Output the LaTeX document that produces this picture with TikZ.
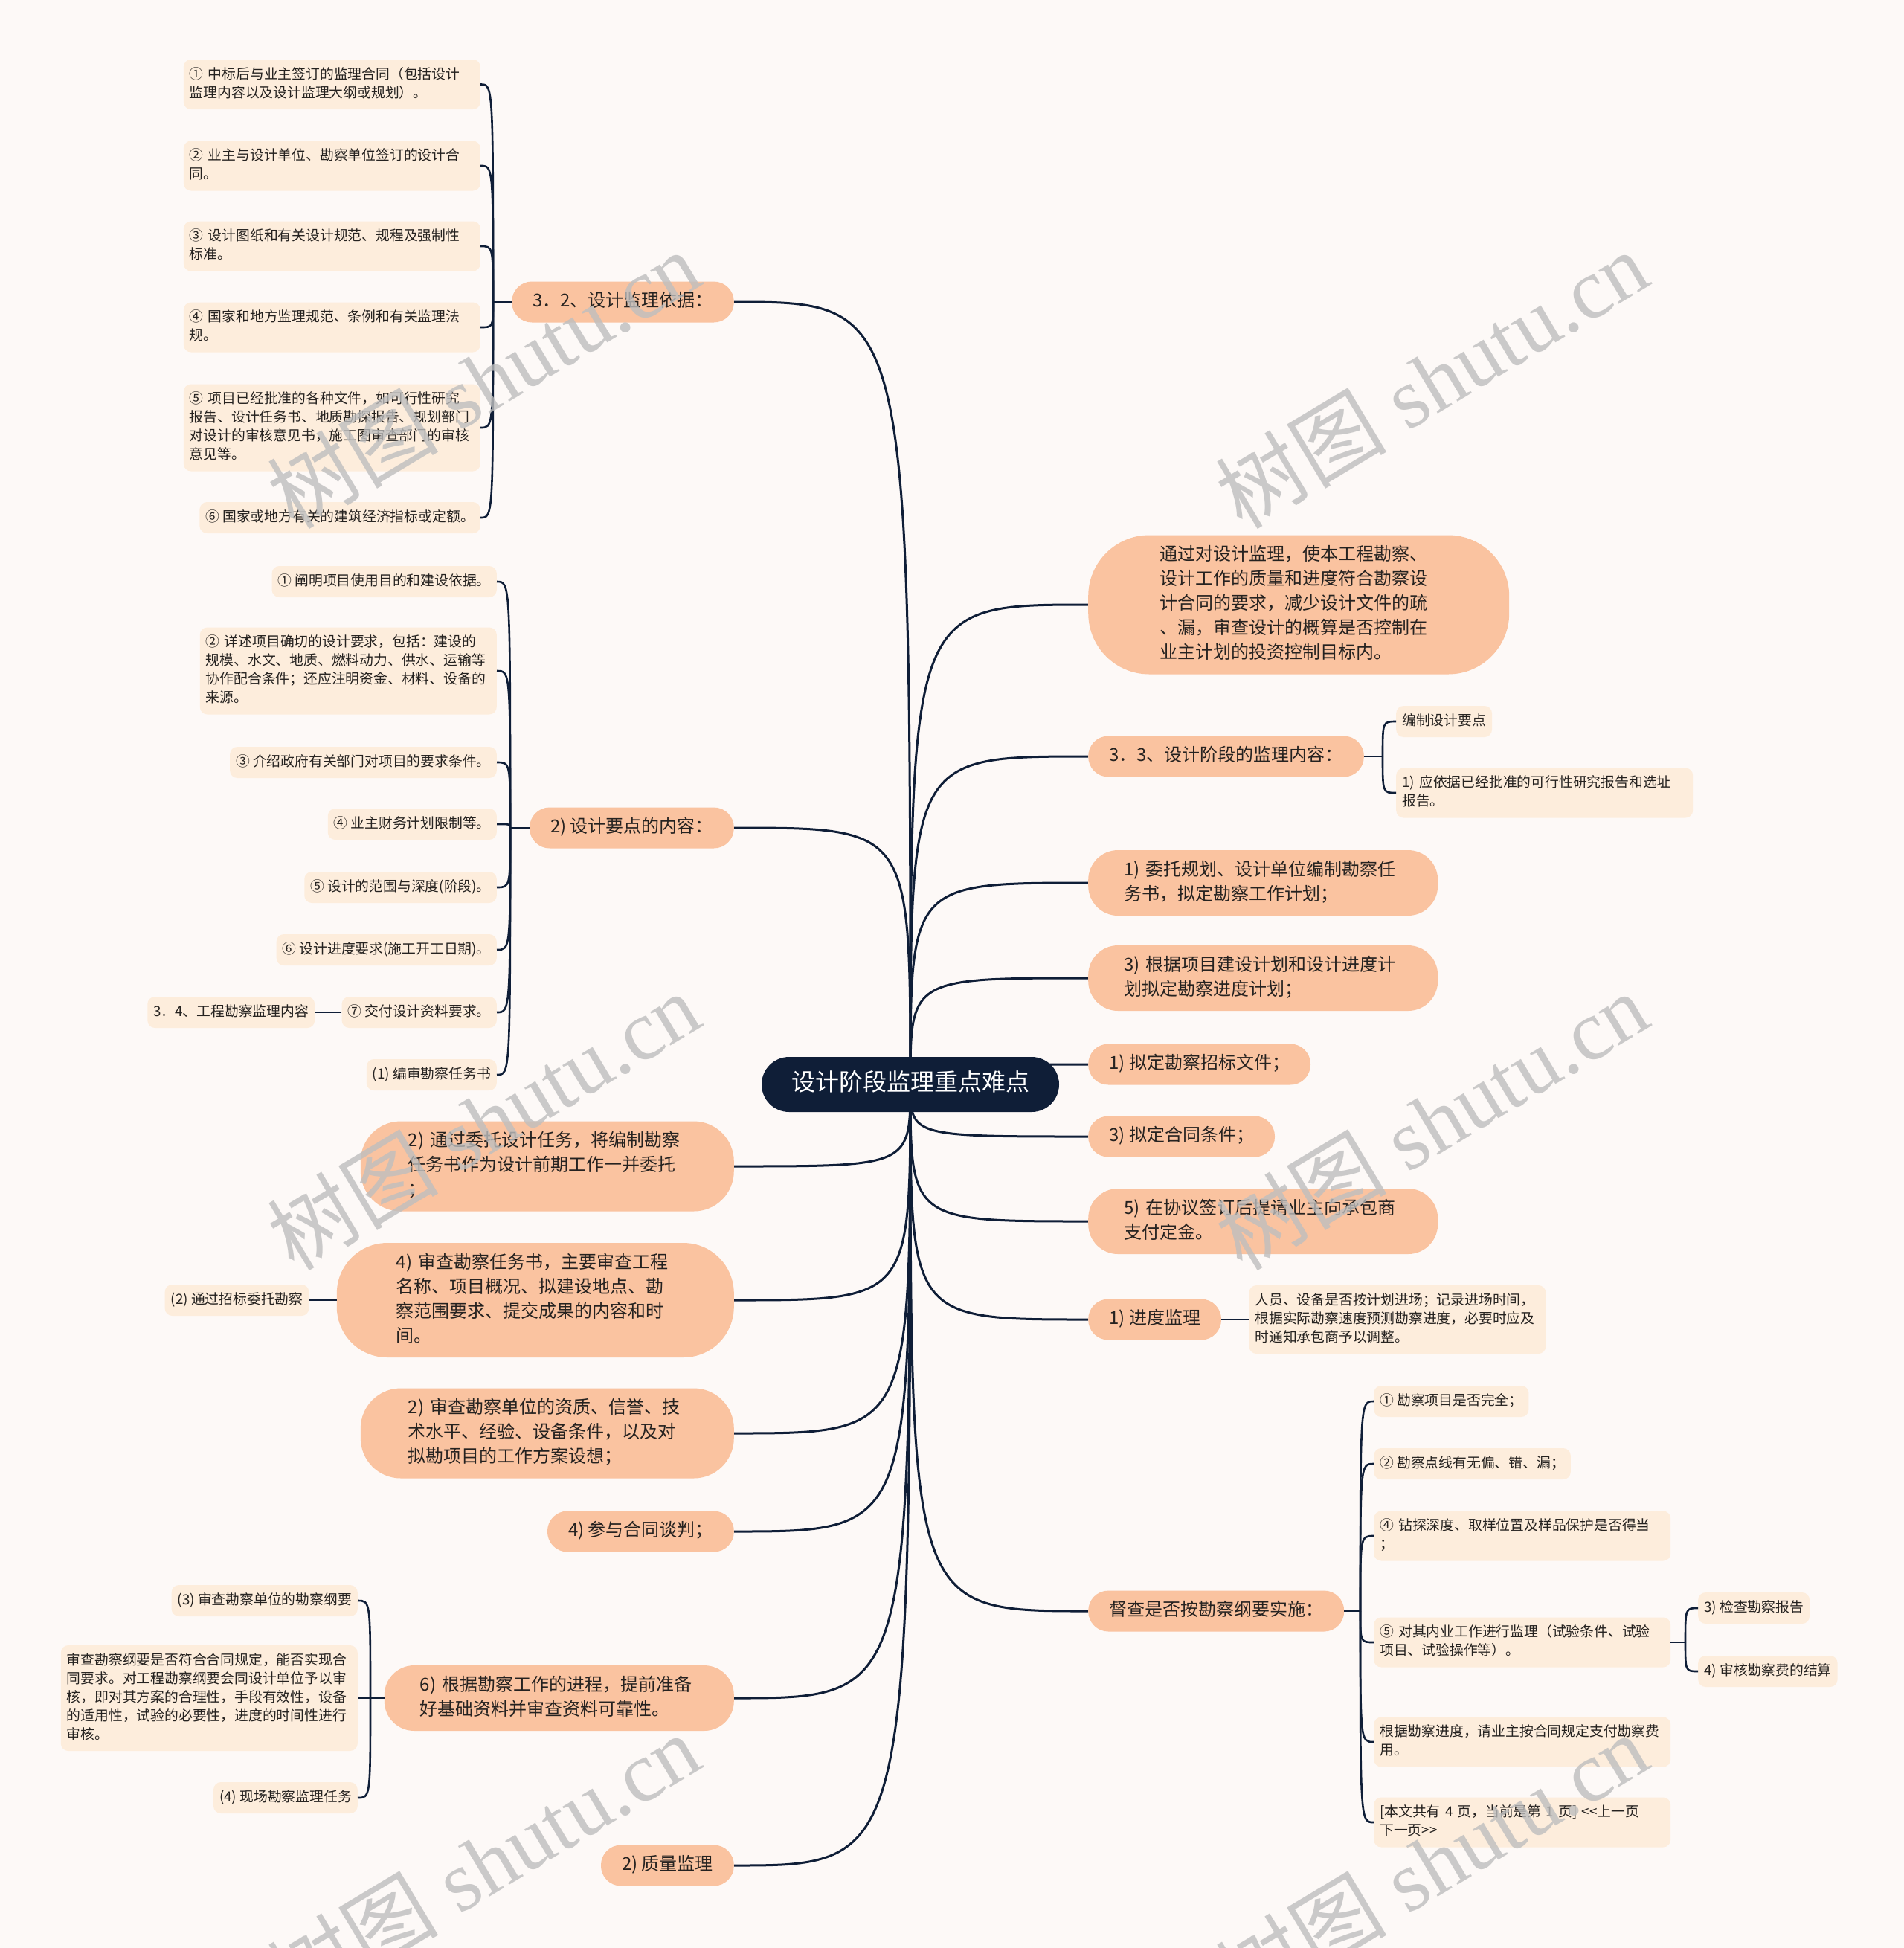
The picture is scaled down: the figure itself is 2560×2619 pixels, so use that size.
\documentclass[tikz,border=0pt]{standalone}
\usepackage{fontspec}
\setmainfont{Noto Sans CJK SC}
\newfontfamily\wmlatin{Liberation Serif}
\usetikzlibrary{positioning,backgrounds}
\definecolor{pagebg}{HTML}{FDF9F7}
\definecolor{navy}{HTML}{0F1E37}
\definecolor{peach}{HTML}{FAC3A0}
\definecolor{cream}{HTML}{FDEDDC}
\definecolor{ink}{HTML}{252220}
\definecolor{wmgray}{HTML}{BEBEBE}
\tikzset{
  topicnode/.style = {fill=navy, text=white, rounded corners=37pt, inner xsep=40pt, inner ysep=16pt,
    font=\fontsize{32}{42}\selectfont, execute at begin node=\strut},
  branchnode/.style = {fill=peach, text=ink, rounded corners=27pt, inner xsep=28pt, inner ysep=11pt, align=left,
    font=\fontsize{24}{33}\selectfont, execute at begin node=\strut, execute at end node=\strut},
  twoline/.style = {branchnode, text width=374pt, inner xsep=48pt, rounded corners=40pt},
  threeline/.style = {branchnode, text width=374pt, inner xsep=64pt, rounded corners=54pt},
  fourline/.style = {branchnode, text width=374pt, inner xsep=80pt, rounded corners=68pt},
  fiveline/.style = {branchnode, text width=374pt, inner xsep=96pt, rounded corners=82pt},
  leafnode/.style = {fill=cream, text=ink, rounded corners=10pt, inner xsep=8pt, inner ysep=8.5pt, align=left,
    font=\fontsize{18.8}{25}\selectfont, execute at begin node=\strut, execute at end node=\strut},
  wideleaf/.style = {leafnode, text width=383pt},
  trunkline/.style = {draw=navy, line width=3pt},
  twigline/.style = {draw=navy, line width=2.6pt},
  wmark/.style = {text=wmgray, text opacity=0.8, rotate=31, font=\fontsize{115}{115}\selectfont}
  }

\begin{document}
\begin{tikzpicture}[x=1pt,y=-1pt]
\useasboundingbox (0,0) rectangle (2560,2619);
\begin{pgfonlayer}{background}
\fill[pagebg] (0,0) rectangle (2560,2619);
\end{pgfonlayer}

% centre
\node[topicnode] (root) at (1224,1458) {设计阶段监理重点难点};

% left side
\node[branchnode,anchor=east] (b1) at (987,406) {3．2、设计监理依据：};
\node[wideleaf,anchor=east] (l1a) at (646,113.5) {① 中标后与业主签订的监理合同（包括设计\\监理内容以及设计监理大纲或规划）。};
\node[wideleaf,anchor=east] (l1b) at (646,223) {② 业主与设计单位、勘察单位签订的设计合\\同。};
\node[wideleaf,anchor=east] (l1c) at (646,331) {③ 设计图纸和有关设计规范、规程及强制性\\标准。};
\node[wideleaf,anchor=east] (l1d) at (646,440) {④ 国家和地方监理规范、条例和有关监理法\\规。};
\node[wideleaf,anchor=east] (l1e) at (646,575) {⑤ 项目已经批准的各种文件，如可行性研究\\报告、设计任务书、地质勘探报告、规划部门\\对设计的审核意见书，施工图审查部门的审核\\意见等。};
\node[leafnode,anchor=east] (l1f) at (646,696) {⑥ 国家或地方有关的建筑经济指标或定额。};

\node[branchnode,anchor=east] (b2) at (987,1113) {2) 设计要点的内容：};
\node[leafnode,anchor=east] (l2a) at (668,782) {① 阐明项目使用目的和建设依据。};
\node[wideleaf,anchor=east] (l2b) at (668,902) {② 详述项目确切的设计要求，包括：建设的\\规模、水文、地质、燃料动力、供水、运输等\\协作配合条件；还应注明资金、材料、设备的\\来源。};
\node[leafnode,anchor=east] (l2c) at (668,1025) {③ 介绍政府有关部门对项目的要求条件。};
\node[leafnode,anchor=east] (l2d) at (668,1108) {④ 业主财务计划限制等。};
\node[leafnode,anchor=east] (l2e) at (668,1193) {⑤ 设计的范围与深度(阶段)。};
\node[leafnode,anchor=east] (l2f) at (668,1277) {⑥ 设计进度要求(施工开工日期)。};
\node[leafnode,anchor=east] (l2g) at (668,1361) {⑦ 交付设计资料要求。};
\node[leafnode,anchor=east] (l2h) at (668,1445) {(1) 编审勘察任务书};
\node[leafnode,left=36pt of l2g] (l34) {3．4、工程勘察监理内容};

\node[threeline,anchor=east] (b3) at (987,1568) {2) 通过委托设计任务，将编制勘察\\任务书作为设计前期工作一并委托\\；};
\node[fourline,anchor=east] (b4) at (987,1748) {4) 审查勘察任务书，主要审查工程\\名称、项目概况、拟建设地点、勘\\察范围要求、提交成果的内容和时\\间。};
\node[leafnode,left=37pt of b4] (b4c) {(2) 通过招标委托勘察};
\node[threeline,anchor=east] (b5) at (987,1927) {2) 审查勘察单位的资质、信誉、技\\术水平、经验、设备条件，以及对\\拟勘项目的工作方案设想；};
\node[branchnode,anchor=east] (b6) at (987,2059) {4) 参与合同谈判；};
\node[twoline,anchor=east] (b7) at (987,2283) {6) 根据勘察工作的进程，提前准备\\好基础资料并审查资料可靠性。};
\node[leafnode,anchor=east] (l7a) at (481,2152) {(3) 审查勘察单位的勘察纲要};
\node[wideleaf,anchor=east] (l7b) at (481,2283) {审查勘察纲要是否符合合同规定，能否实现合\\同要求。对工程勘察纲要会同设计单位予以审\\核，即对其方案的合理性，手段有效性，设备\\的适用性，试验的必要性，进度的时间性进行\\审核。};
\node[leafnode,anchor=east] (l7c) at (481,2417) {(4) 现场勘察监理任务};
\node[branchnode,anchor=east] (b8) at (987,2508) {2) 质量监理};

% right side
\node[fiveline,anchor=west] (r1) at (1463,813) {通过对设计监理，使本工程勘察、\\设计工作的质量和进度符合勘察设\\计合同的要求，减少设计文件的疏\\、漏，审查设计的概算是否控制在\\业主计划的投资控制目标内。};
\node[branchnode,anchor=west] (r2) at (1463,1017) {3．3、设计阶段的监理内容：};
\node[leafnode,anchor=west] (r2a) at (1877,970) {编制设计要点};
\node[wideleaf,anchor=west] (r2b) at (1877,1066) {1) 应依据已经批准的可行性研究报告和选址\\报告。};
\node[twoline,anchor=west] (r3) at (1463,1187) {1) 委托规划、设计单位编制勘察任\\务书，拟定勘察工作计划；};
\node[twoline,anchor=west] (r4) at (1463,1315) {3) 根据项目建设计划和设计进度计\\划拟定勘察进度计划；};
\node[branchnode,anchor=west] (r5) at (1463,1431) {1) 拟定勘察招标文件；};
\node[branchnode,anchor=west] (r6) at (1463,1528) {3) 拟定合同条件；};
\node[twoline,anchor=west] (r7) at (1463,1642) {5) 在协议签订后提请业主向承包商\\支付定金。};
\node[branchnode,anchor=west] (r8) at (1463,1774) {1) 进度监理};
\node[wideleaf,right=37pt of r8] (r8c) {人员、设备是否按计划进场；记录进场时间，\\根据实际勘察速度预测勘察进度，必要时应及\\时通知承包商予以调整。};
\node[branchnode,anchor=west] (r9) at (1463,2166) {督查是否按勘察纲要实施：};
\node[leafnode,anchor=west] (r9a) at (1847,1884) {① 勘察项目是否完全；};
\node[leafnode,anchor=west] (r9b) at (1847,1968) {② 勘察点线有无偏、错、漏；};
\node[wideleaf,anchor=west] (r9c) at (1847,2065) {④ 钻探深度、取样位置及样品保护是否得当\\；};
\node[wideleaf,anchor=west] (r9d) at (1847,2208) {⑤ 对其内业工作进行监理（试验条件、试验\\项目、试验操作等）。};
\node[leafnode,anchor=west] (r9d1) at (2283,2162) {3) 检查勘察报告};
\node[leafnode,anchor=west] (r9d2) at (2283,2247) {4) 审核勘察费的结算};
\node[wideleaf,anchor=west] (r9e) at (1847,2342) {根据勘察进度，请业主按合同规定支付勘察费\\用。};
\node[wideleaf,anchor=west] (r9f) at (1847,2450) {[本文共有 4 页，当前是第 1 页] <{}<上一页\\下一页>{}>};

% junctions of the brackets
\coordinate (j1) at (663,406);
\coordinate (j2) at (686,1113);
\coordinate (j7) at (498,2283);
\coordinate (k2) at (1859,1017);
\coordinate (k9) at (1829,2166);
\coordinate (k9d) at (2266,2208);

% connectors from the centre
\begin{pgfonlayer}{background}
\foreach \bn in {b1,b2,b3,b4,b5,b6,b7,b8}
  \draw[trunkline] (root.center) .. controls (root.center |- \bn.east) .. (\bn.east);
\foreach \rn in {r1,r2,r3,r4,r5,r6,r7,r8,r9}
  \draw[trunkline] (root.center) .. controls (root.center |- \rn.west) .. (\rn.west);
\end{pgfonlayer}

% brackets
\draw[twigline] (b1.west) -- (j1);
\foreach \lv in {l1a,l1b,l1c,l1d,l1e,l1f}
  \draw[twigline] (j1) .. controls (j1 |- \lv.east) .. (\lv.east);
\draw[twigline] (b2.west) -- (j2);
\foreach \lv in {l2a,l2b,l2c,l2d,l2e,l2f,l2g,l2h}
  \draw[twigline] (j2) .. controls (j2 |- \lv.east) .. (\lv.east);
\draw[twigline] (b7.west) -- (j7);
\foreach \lv in {l7a,l7b,l7c}
  \draw[twigline] (j7) .. controls (j7 |- \lv.east) .. (\lv.east);
\draw[twigline] (r2.east) -- (k2);
\foreach \lv in {r2a,r2b}
  \draw[twigline] (k2) .. controls (k2 |- \lv.west) .. (\lv.west);
\draw[twigline] (r9.east) -- (k9);
\foreach \lv in {r9a,r9b,r9c,r9d,r9e,r9f}
  \draw[twigline] (k9) .. controls (k9 |- \lv.west) .. (\lv.west);
\draw[twigline] (r9d.east) -- (k9d);
\foreach \lv in {r9d1,r9d2}
  \draw[twigline] (k9d) .. controls (k9d |- \lv.west) .. (\lv.west);

\draw[twigline] (l2g.west) -- (l34.east);
\draw[twigline] (b4.west) -- (b4c.east);
\draw[twigline] (r8.east) -- (r8c.west);

% watermark
\foreach \wx/\wy [count=\k] in {650/510,1925/510,650/1507,1925/1507,650/2504,1925/2504}
  \node[wmark] (wm\k) at (\wx,\wy) {树图{\wmlatin\ shutu.cn}};
\end{tikzpicture}
\end{document}
